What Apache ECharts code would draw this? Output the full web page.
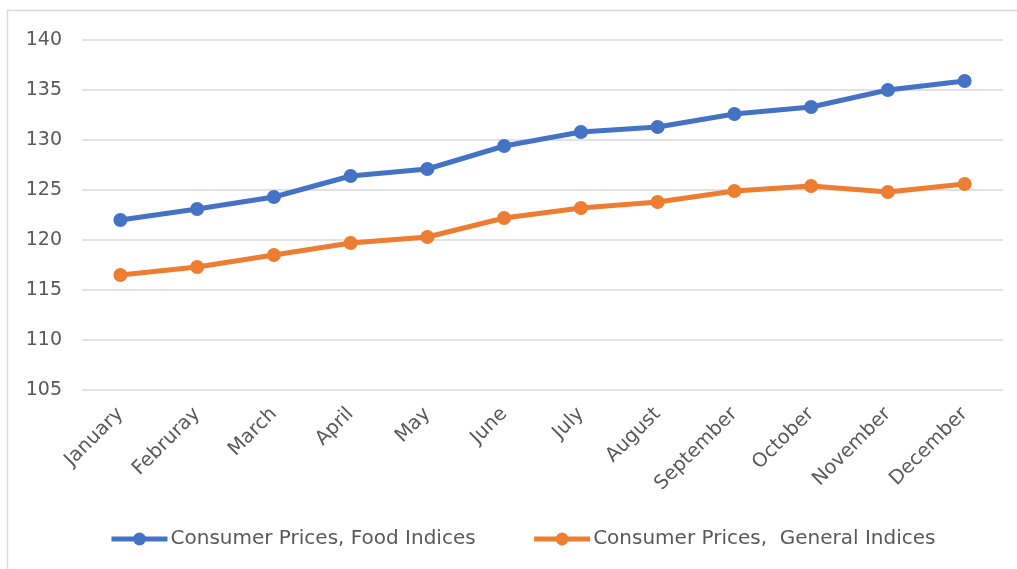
<!DOCTYPE html>
<html>
<head>
<meta charset="utf-8">
<script src="https://cdn.jsdelivr.net/npm/echarts@6/dist/echarts.min.js"></script>
<style>html,body{margin:0;padding:0;background:#fff}#c{width:1017px;height:569px}</style>
</head>
<body>
<div id="c"></div>
<script>
const months = ['January','Februray','March','April','May','June','July','August','September','October','November','December'];
const foodIndices = [122.0, 123.1, 124.3, 126.4, 127.1, 129.4, 130.8, 131.3, 132.6, 133.3, 135.0, 135.9];
const generalIndices = [116.5, 117.3, 118.5, 119.7, 120.3, 122.2, 123.2, 123.8, 124.9, 125.4, 124.8, 125.6];
const foodName = 'Consumer Prices, Food Indices';
const generalName = 'Consumer Prices,  General Indices';

const chart = echarts.init(document.getElementById('c'), null, {renderer: 'canvas'});
const font = "'DejaVu Sans', 'Noto Sans', sans-serif";
chart.setOption({
  animation: false,
  textStyle: {fontFamily: font},
  graphic: [{
    type: 'rect', silent: true,
    shape: {x: 7.5, y: 10.5, width: 1030, height: 580},
    style: {fill: 'none', stroke: '#d9d9d9', lineWidth: 1.5}
  }],
  grid: {left: 82, right: 14, top: 40, bottom: 179, containLabel: false},
  legend: {
    bottom: 20, left: 109, itemGap: 56, padding: 0,
    itemWidth: 56, itemHeight: 16,
    lineStyle: {width: 5},
    textStyle: {fontSize: 20, color: '#595959', fontFamily: font, padding: [0,0,0,-2]},
    data: [foodName, generalName]
  },
  xAxis: {
    type: 'category', data: months, boundaryGap: true,
    axisLine: {show: false}, axisTick: {show: false},
    axisLabel: {rotate: 45, fontSize: 19.5, color: '#595959', margin: 21, interval: 0, fontFamily: font}
  },
  yAxis: {
    type: 'value', min: 105, max: 140, interval: 5,
    axisLine: {show: false}, axisTick: {show: false},
    axisLabel: {fontSize: 19, color: '#595959', margin: 20, fontFamily: font},
    splitLine: {lineStyle: {color: '#d9d9d9', width: 1.5}}
  },
  series: [
    {name: foodName, type: 'line', data: foodIndices, symbol: 'circle', symbolSize: 14,
     itemStyle: {color: '#4472C4'}, lineStyle: {width: 5, color: '#4472C4'}},
    {name: generalName, type: 'line', data: generalIndices, symbol: 'circle', symbolSize: 14,
     itemStyle: {color: '#ED7D31'}, lineStyle: {width: 5, color: '#ED7D31'}}
  ]
});
</script>
</body>
</html>
